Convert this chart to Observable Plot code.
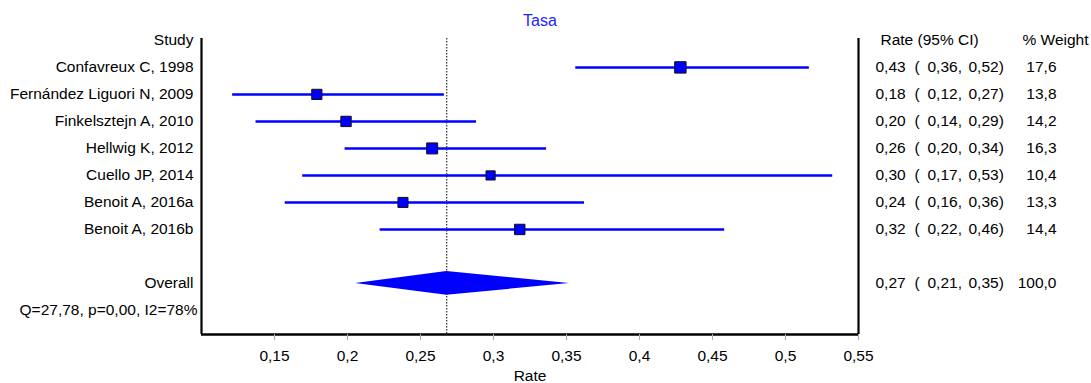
<!DOCTYPE html>
<html>
<head>
<meta charset="utf-8">
<script src="https://cdn.jsdelivr.net/npm/d3@7"></script>
<script src="https://cdn.jsdelivr.net/npm/@observablehq/plot@0.6"></script>
<style>
  html, body { margin: 0; padding: 0; background: #fff; }
</style>
</head>
<body>
<div id="chart"></div>
<script>
// ---- data ----
const studies = [
  "Confavreux C, 1998",
  "Fernández Liguori N, 2009",
  "Finkelsztejn A, 2010",
  "Hellwig K, 2012",
  "Cuello JP, 2014",
  "Benoit A, 2016a",
  "Benoit A, 2016b"
];
const rates   = [0.428, 0.179, 0.199, 0.258, 0.298, 0.238, 0.318];
const lowers  = [0.356, 0.121, 0.137, 0.198, 0.169, 0.157, 0.222];
const uppers  = [0.516, 0.266, 0.288, 0.336, 0.532, 0.362, 0.458];
const weights = [17.6, 13.8, 14.2, 16.3, 10.4, 13.3, 14.4];

const overallLabel = "Overall";
const overallRate = 0.268;
const overallLower = 0.2055;
const overallUpper = 0.352;
const overallWeight = 100.0;

const heterogeneity = "Q=27,78, p=0,00, I2=78%";
const titleText = "Tasa";
const xLabel = "Rate";
const headerStudy = "Study";
const headerRate = "Rate (95% CI)";
const headerWeight = "% Weight";
const xTicks = [0.15, 0.2, 0.25, 0.3, 0.35, 0.4, 0.45, 0.5, 0.55];

// ---- build table ----
const fmt2 = v => (Math.round(v * 100) / 100).toFixed(2).replace(".", ",");
const fmt1 = v => v.toFixed(1).replace(".", ",");
const rows = studies.map((s, i) => ({
  study: s, row: i + 1, rate: rates[i], lo: lowers[i], hi: uppers[i], w: weights[i]
}));
const overallRow = studies.length + 2;
const hetRow = overallRow + 1;
const textRows = [...rows, {study: overallLabel, row: overallRow, rate: overallRate, lo: overallLower, hi: overallUpper, w: overallWeight}];
const diamondHalf = 0.44;
const diamond = [
  {y: overallRow - diamondHalf, x1: overallRate, x2: overallRate},
  {y: overallRow, x1: overallLower, x2: overallUpper},
  {y: overallRow + diamondHalf, x1: overallRate, x2: overallRate}
];

const blue = "#0000ff";
const fs = 15.5;

const chart = Plot.plot({
  width: 1091,
  height: 383,
  marginLeft: 201,
  marginRight: 233,
  marginTop: 38,
  marginBottom: 49,
  style: {fontFamily: "'Liberation Sans', Arial, sans-serif", fontSize: fs + "px", background: "#fff", color: "#000"},
  x: {domain: [0.1, 0.55]},
  y: {domain: [hetRow + 0.89, -0.07], axis: null},
  r: {type: "linear", domain: [10, 18], range: [5.1, 6.5]},
  marks: [
    // frame lines
    Plot.ruleX([0.1, 0.55], {stroke: "#000", strokeWidth: 2.2}),
    Plot.ruleY([hetRow + 0.89], {stroke: "#000", strokeWidth: 2.5}),
    // x axis
    Plot.axisX({ticks: xTicks, tickSize: 6, tickPadding: 9, stroke: "#aaa", fill: "#000", fontSize: fs, label: null,
      tickFormat: d => String(+d.toFixed(2)).replace(".", ",")}),
    Plot.text([xLabel], {frameAnchor: "bottom", dy: 46, fontSize: fs, fill: "#000"}),
    // reference line
    Plot.ruleX([overallRate], {stroke: "#000", strokeWidth: 1, strokeDasharray: "1.5,1.5"}),
    // CIs
    Plot.link(rows, {x1: "lo", x2: "hi", y1: "row", y2: "row", stroke: blue, strokeWidth: 2.5}),
    Plot.dot(rows, {x: "rate", y: "row", r: "w", symbol: "square", fill: blue, stroke: "#111", strokeWidth: 1}),
    // diamond
    Plot.areaX(diamond, {y: "y", x1: "x1", x2: "x2", fill: blue, curve: "linear"}),
    // left labels
    Plot.text([headerStudy], {frameAnchor: "left", y: [0], textAnchor: "end", dx: -8, fontSize: fs}),
    Plot.text(textRows, {frameAnchor: "left", y: "row", text: "study", textAnchor: "end", dx: -8, fontSize: fs}),
    Plot.text([heterogeneity], {frameAnchor: "left", y: [hetRow], textAnchor: "end", dx: -4, fontSize: fs}),
    // right columns
    Plot.text([headerRate], {frameAnchor: "right", y: [0], textAnchor: "start", dx: 22, fontSize: fs}),
    Plot.text([headerWeight], {frameAnchor: "right", y: [0], textAnchor: "start", dx: 164, fontSize: fs}),
    Plot.text(textRows, {frameAnchor: "right", y: "row", text: d => fmt2(d.rate), textAnchor: "start", dx: 17, fontSize: fs}),
    Plot.text(textRows, {frameAnchor: "right", y: "row", text: d => "(", textAnchor: "start", dx: 56, fontSize: fs}),
    Plot.text(textRows, {frameAnchor: "right", y: "row", text: d => fmt2(d.lo) + ",", textAnchor: "start", dx: 69, fontSize: fs}),
    Plot.text(textRows, {frameAnchor: "right", y: "row", text: d => fmt2(d.hi) + ")", textAnchor: "start", dx: 110, fontSize: fs}),
    Plot.text(textRows, {frameAnchor: "right", y: "row", text: d => fmt1(d.w), textAnchor: "end", dx: 198, fontSize: fs}),
    // title
    Plot.text([titleText], {frameAnchor: "top", dy: -24, dx: 10, fill: "#2222ff", fontSize: 16})
  ]
});
document.getElementById("chart").appendChild(chart);
</script>
</body>
</html>
